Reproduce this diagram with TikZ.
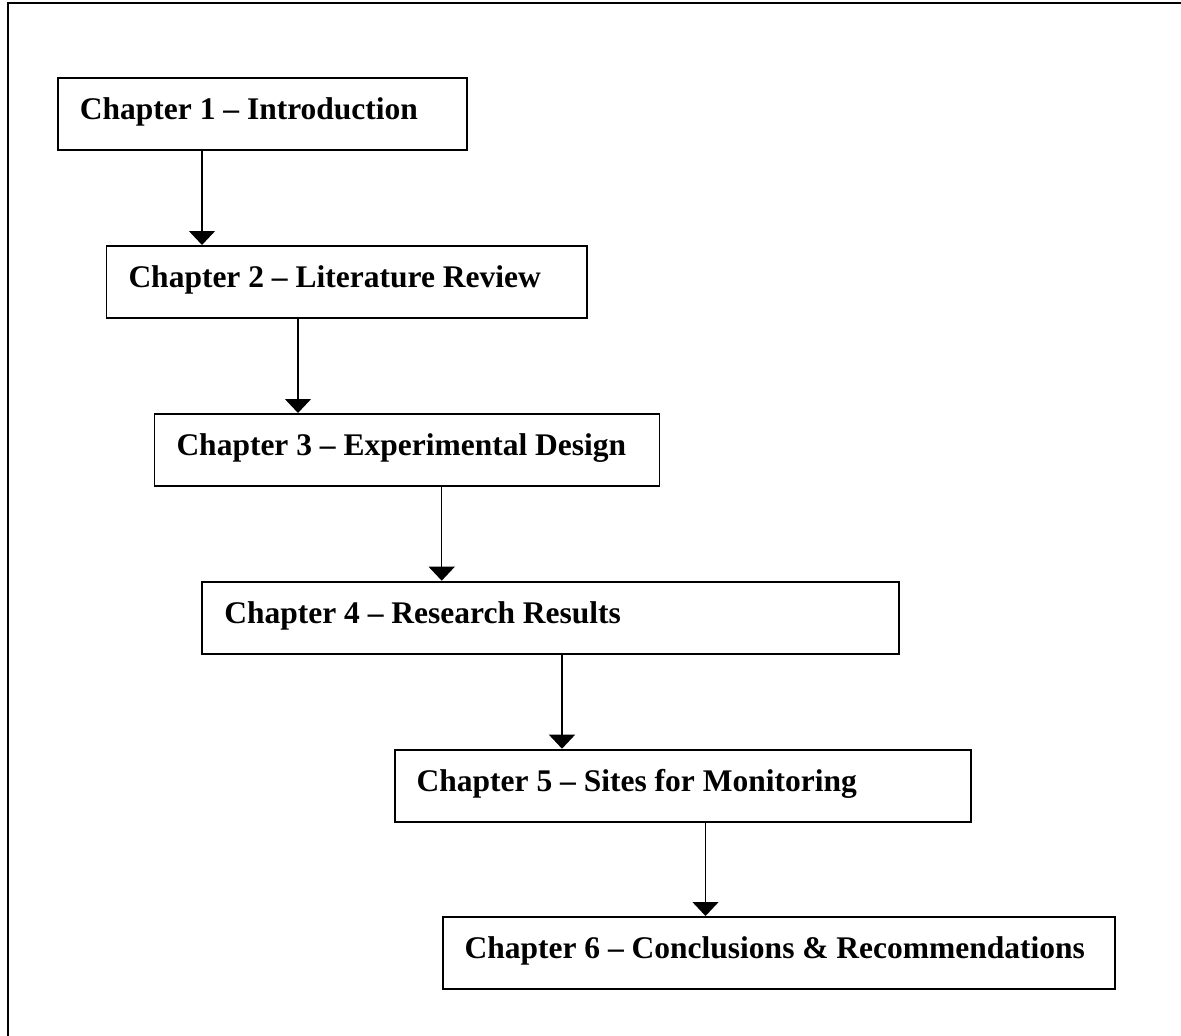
\documentclass[tikz,border=0pt]{standalone}
\usepackage{fontspec}
\setmainfont{Liberation Serif}
\usetikzlibrary{arrows.meta,calc}
\begin{document}
\begin{tikzpicture}[x=1pt,y=-1pt,
  chbox/.style={draw, line width=1.8pt, anchor=north west, inner ysep=0pt, inner xsep=22pt,
    text height=41.5pt, text depth=30.5pt, font=\fontsize{31.5}{36}\selectfont\bfseries},
  arr/.style={line width=1.4pt, -{Triangle[width=26pt,length=14pt]}}]
\useasboundingbox (0,0) rectangle (1181,1036);
\draw[line width=2pt] (8,1036) -- (8,3) -- (1181,3);
\node[chbox] (c1) at (57,77) {\makebox[365pt][l]{Chapter 1 – Introduction}};
\node[chbox] (c2) at (105.6,245) {\makebox[436.4pt][l]{Chapter 2 – Literature Review}};
\node[chbox] (c3) at (153.6,413) {\makebox[461pt][l]{Chapter 3 – Experimental Design}};
\node[chbox] (c4) at (201.4,580.7) {\makebox[652.6pt][l]{Chapter 4 – Research Results}};
\node[chbox] (c5) at (393.8,748.7) {\makebox[532pt][l]{Chapter 5 – Sites for Monitoring}};
\node[chbox] (c6) at (441.7,916) {\makebox[628pt][l]{Chapter 6 – Conclusions \& Recommendations}};
\draw[arr] ($(c1.south west)+(145,0)$) coordinate (a1) -- (a1 |- c2.north);
\draw[arr] ($(c2.south west)+(192.4,0)$) coordinate (a2) -- (a2 |- c3.north);
\draw[arr] ($(c3.south west)+(288.1,0)$) coordinate (a3) -- (a3 |- c4.north);
\draw[arr] ($(c4.south west)+(360.6,0)$) coordinate (a4) -- (a4 |- c5.north);
\draw[arr] ($(c5.south west)+(311.7,0)$) coordinate (a5) -- (a5 |- c6.north);
\end{tikzpicture}
\end{document}
